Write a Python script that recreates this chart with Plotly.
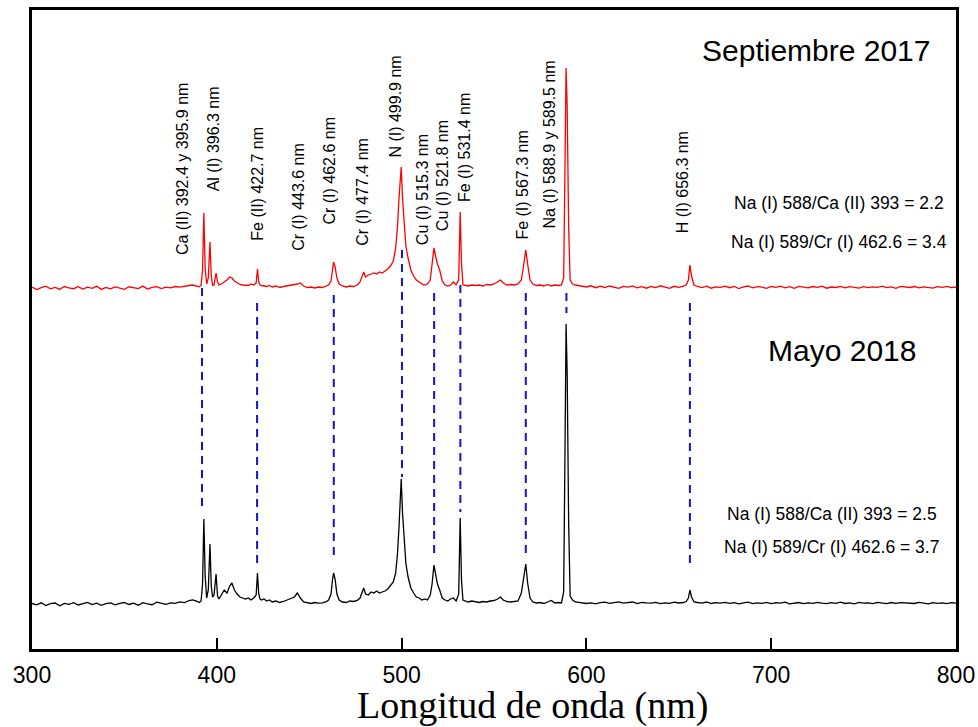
import plotly.graph_objects as go

# ---------------- DATA ----------------
wavelength_nm = [
    300, 302.5, 305, 307.5, 310, 312.5, 315, 317.5, 320, 322.5,
    325, 327.5, 330, 332.5, 335, 337.5, 340, 342.5, 345, 347.5,
    350, 352.5, 355, 357.5, 360, 362.5, 365, 367.5, 370, 372.5,
    375, 377.5, 380, 382.5, 385, 387, 389, 390.5, 391.5, 392.3,
    393.0, 393.7, 394.5, 395.4, 396.3, 397.0, 397.7, 398.5, 399.6, 400.4,
    401.2, 402.5, 404, 405.5, 407, 408.2, 409.5, 411, 412.5, 414,
    415.5, 417, 418.5, 420, 421.3, 422.0, 422.7, 423.4, 424.2, 425.5,
    427, 428.5, 430, 432, 434, 436, 438, 440, 442, 443.6,
    445.2, 447, 449, 451, 453, 455, 457, 459, 460.5, 461.8,
    462.6, 463.2, 464.0, 465.0, 466.2, 468, 470, 472, 474, 476,
    477.5, 478.5, 479.5, 480.5, 482, 483.5, 485, 486.5, 488, 489.5,
    491, 492.5, 494, 495.5, 496.8, 497.8, 498.6, 499.2, 499.8, 500.5,
    501.3, 502.3, 503.5, 505, 506.5, 508, 509.5, 511, 512.5, 514,
    515.5, 516.5, 517.5, 518.4, 519.4, 520.6, 522, 523.5, 525, 526.5,
    528, 529.5, 530.9, 531.7, 532.4, 533.2, 534.5, 536, 538, 540,
    542, 544, 546, 548, 550, 552, 553.5, 555, 557, 559,
    561, 563, 564.8, 566.2, 567.2, 568.2, 569.5, 571, 573, 575,
    577, 579, 581, 583, 585, 586.5, 587.7, 588.4, 589.0, 589.6,
    590.4, 591.2, 592.5, 594, 596, 598, 600, 602.5, 605, 607.5,
    610, 612.5, 615, 617.5, 620, 622.5, 625, 627.5, 630, 632.5,
    635, 637.5, 640, 642.5, 645, 647.5, 650, 652.5, 654, 655.2,
    656.0, 656.9, 658.2, 660, 662.5, 665, 667.5, 670, 672.5, 675,
    677.5, 680, 682.5, 685, 687.5, 690, 692.5, 695, 697.5, 700,
    702.5, 705, 707.5, 710, 712.5, 715, 717.5, 720, 722.5, 725,
    727.5, 730, 732.5, 735, 737.5, 740, 742.5, 745, 747.5, 750,
    752.5, 755, 757.5, 760, 762.5, 765, 767.5, 770, 772.5, 775,
    777.5, 780, 782.5, 785, 787.5, 790, 792.5, 795, 797.5, 800,
]

# Intensity (a.u.) above each spectrum's own baseline
intensity_may2018 = [
    0.5, -0.8, 1.2, -1.5, 0.3, 1.0, -1.8, 0.6, -0.4, 1.4,
    -1.0, 0.2, 1.6, -0.6, 0.9, -1.3, 0.4, 1.1, -0.9, 0.7,
    1.5, -0.5, 0.8, -1.2, 1.3, 0.1, -0.7, 1.8, 0.4, -0.3,
    1.2, 0.6, 2.2, 1.4, 3.5, 4.2, 2.8, 1.5, 3.0, 20,
    85, 28, 6, 14, 60, 18, 7, 9, 30, 8,
    5, 9, 14, 11, 18, 21, 14, 10, 7, 6,
    5, 6, 4, 6, 9, 31, 10, 5, 4, 5,
    3, 4, 2, 3, 1.5, 2.5, 4, 5, 7, 11,
    6, 2, 1, 0.5, 1.5, 0.8, 1.2, 2, 4, 10,
    24, 31, 25, 10, 4, 2, 1.5, 3, 2.5, 3.5,
    6, 12, 16, 10, 9, 12, 11, 13, 11, 12,
    13, 15, 18, 22, 31, 51, 77, 104, 125, 91,
    64, 41, 27, 16, 11, 7, 6, 4, 5, 4,
    9, 20, 39, 30, 20, 14, 6, 4, 3, 5,
    6, 3, 10, 86, 24, 4, 3, 2, 3, 2,
    1.5, 2.5, 2, 3, 3.5, 5, 7, 4, 2.5, 2,
    2.5, 3, 11, 27, 40, 21, 6, 2, 1, 1.5,
    0.5, 2, 3.5, 1, 1.5, 1, 12, 150, 280, 230,
    80, 8, 4, 2, 1.5, 1, 0.5, 1.2, 0.2, 1.4,
    1.8, 0.6, 1.3, 2.2, 0.8, 1.5, 2.0, 0.4, 1.7, 1.1,
    0.9, 1.6, 0.3, 1.2, 0.7, 1.9, 1.0, 1.5, 2.5, 6,
    14, 7, 2, 1.5, 0.8, 2.0, 0.5, 1.3, 0.9, 1.7,
    0.6, 1.4, 0.2, 1.1, 1.8, 0.4, 1.2, 0.7, 1.6, 0.3,
    1.3, 0.8, 1.9, 0.2, 1.0, 1.5, 0.4, 1.2, 0.6, 1.7,
    0.9, 0.3, 1.4, 0.7, 1.8, 0.5, 1.1, 0.2, 1.6, 0.8,
    1.2, 0.4, 1.7, 0.9, 0.3, 1.5, 0.6, 1.3, 0.8, 1.0,
    0.5, 1.6, 0.9, 0.2, 1.4, 0.7, 1.1, 0.4, 1.3, 0.8,
]

intensity_sep2017 = [
    1.0, -1.5, 0.4, 1.8, -0.9, 0.6, -1.2, 1.5, 0.2, -0.7,
    1.3, -1.1, 0.8, -0.3, 1.7, -1.4, 0.5, -0.8, 1.1, 0.0,
    -1.3, 1.2, 0.3, -0.6, 1.9, -1.0, 0.7, 1.4, -0.5, 0.9,
    0.2, 1.5, 0.8, 1.9, 2.5, 3.0, 1.8, 1.2, 2.5, 18,
    75, 20, 4, 10, 46, 12, 3, 3, 15, 6,
    3, 4, 6, 8, 11, 10, 7, 5, 3.5, 3,
    3, 2.5, 4, 3, 5, 19, 6, 3, 2.5, 2,
    1.5, 2.5, 1, 2, 0.5, 1.5, 2, 2.5, 3, 4,
    5, 2, 0.5, 1, 0, 1, 0.5, 1.5, 3, 7,
    17, 26, 21, 10, 4, 2, 1, 2, 1.5, 3,
    6, 12, 16, 11, 13, 14, 15, 14, 16, 15,
    17, 19, 22, 27, 40, 62, 90, 110, 121, 90,
    65, 42, 30, 18, 12, 8, 6, 4, 3, 4,
    8, 22, 40, 32, 24, 18, 7, 3, 2, 3,
    6, 3, 8, 76, 25, 3, 2.5, 2, 3, 2.5,
    3, 2, 3.5, 3, 4, 6, 8, 5, 3, 3.5,
    3, 4, 8, 25, 38, 24, 8, 4, 2.5, 3,
    2, 3.5, 2, 3, 2.5, 3, 10, 120, 220, 181,
    60, 8, 4, 3, 2.5, 1.5, 1, 2.2, 0.3, 1.8,
    0.5, 2.0, 1.1, -0.4, 1.6, 0.8, 2.1, 0.2, 1.3, -0.2,
    1.5, 0.4, 2.2, 0.9, -0.3, 1.7, 0.6, 1.9, 3, 8,
    23, 12, 3, 1.5, 0.4, 1.8, -0.2, 1.2, 0.7, 1.9,
    0.3, 1.6, -0.5, 1.1, 2.0, 0.2, 1.4, 0.8, -0.3, 1.5,
    0.6, 1.9, 0.1, 1.3, -0.4, 1.7, 0.9, 0.2, 1.5, 0.6,
    1.8, -0.2, 1.0, 0.5, 1.6, 0.1, 1.3, 0.8, -0.1, 1.4,
    0.4, 1.2, 0.7, 1.9, 0.3, 1.1, -0.3, 1.6, 0.9, 0.5,
    1.5, 0.2, 1.2, 0.8, -0.1, 1.3, 0.6, 1.7, 0.4, 1.0,
]

line_labels = [
    "Ca (II) 392.4 y 395.9 nm", "Al (I) 396.3 nm", "Fe (II) 422.7 nm",
    "Cr (I) 443.6 nm", "Cr (I) 462.6 nm", "Cr (I) 477.4 nm",
    "N (I) 499.9 nm", "Cu (I) 515.3 nm", "Cu (I) 521.8 nm",
    "Fe (I) 531.4 nm", "Fe (I) 567.3 nm", "Na (I) 588.9 y 589.5 nm",
    "H (I) 656.3 nm",
]

marker_lines_nm = [392.0, 421.8, 463.3, 500.2, 517.6, 531.8, 567.2, 589.2, 656.0]

ratio_sep2017 = ["Na (I) 588/Ca (II) 393 = 2.2", "Na (I) 589/Cr (I) 462.6 = 3.4"]
ratio_may2018 = ["Na (I) 588/Ca (II) 393 = 2.5", "Na (I) 589/Cr (I) 462.6 = 3.7"]

x_ticks = [300, 400, 500, 600, 700, 800]

# ---------------- LAYOUT / STYLE ----------------
SEP_OFFSET = 316
label_pos = [  # (x, y bottom) for rotated labels
    (381.5, 347), (398.4, 411), (421.6, 361), (443.8, 351), (460.5, 377),
    (478.4, 356), (496.2, 444), (511.4, 357), (522.2, 371), (534.1, 400),
    (565.2, 362), (580.0, 374), (651.9, 369),
]
marker_extent = [  # (top, bottom)
    (316, 92), (301, 37), (309, 47), (354, 127), (311, 45),
    (319, 92), (311, 47), (311, 291), (301, 39),
]

SANS = "Liberation Sans, Arial, sans-serif"
SERIF = "Liberation Serif, Times New Roman, serif"

fig = go.Figure()
fig.add_trace(go.Scatter(
    x=wavelength_nm, y=[v + SEP_OFFSET for v in intensity_sep2017],
    mode="lines", line=dict(color="#FF0000", width=1.3), showlegend=False,
    name="Septiembre 2017"))
fig.add_trace(go.Scatter(
    x=wavelength_nm, y=intensity_may2018,
    mode="lines", line=dict(color="#000000", width=1.3), showlegend=False,
    name="Mayo 2018"))

shapes = []
for xnm, (top, bot) in zip(marker_lines_nm, marker_extent):
    shapes.append(dict(type="line", xref="x", yref="y", x0=xnm, x1=xnm, y0=top, y1=bot,
                       line=dict(color="#1414C8", width=2, dash="8px,6px"), layer="below"))

annotations = []
for text, (lx, ly) in zip(line_labels, label_pos):
    annotations.append(dict(x=lx, y=ly, xref="x", yref="y", text=text, showarrow=False,
                            textangle=-90, xanchor="center", yanchor="bottom",
                            font=dict(family=SANS, size=16, color="black")))

annotations.append(dict(x=724.3, y=554, xref="x", yref="y", text="Septiembre 2017",
                        showarrow=False, xanchor="center", yanchor="middle",
                        font=dict(family=SANS, size=30, color="black")))
annotations.append(dict(x=738.1, y=254, xref="x", yref="y", text="Mayo 2018",
                        showarrow=False, xanchor="center", yanchor="middle",
                        font=dict(family=SANS, size=30, color="black")))
for text, (rx, ry) in zip(ratio_sep2017, [(736.5, 401), (736.8, 362)]):
    annotations.append(dict(x=rx, y=ry, xref="x", yref="y", text=text, showarrow=False,
                            xanchor="center", yanchor="middle",
                            font=dict(family=SANS, size=17.5, color="black")))
for text, (rx, ry) in zip(ratio_may2018, [(732.7, 90), (732.7, 57)]):
    annotations.append(dict(x=rx, y=ry, xref="x", yref="y", text=text, showarrow=False,
                            xanchor="center", yanchor="middle",
                            font=dict(family=SANS, size=17.5, color="black")))
annotations.append(dict(x=571, y=0, xref="x", yref="paper", yshift=-56,
                        text="Longitud de onda (nm)", showarrow=False,
                        xanchor="center", yanchor="middle",
                        font=dict(family=SERIF, size=38, color="black")))

fig.update_layout(
    template="none",
    width=978, height=727,
    margin=dict(l=32, r=22, t=10, b=78, pad=0, autoexpand=False),
    paper_bgcolor="white", plot_bgcolor="white",
    shapes=shapes, annotations=annotations,
    xaxis=dict(range=[300, 800], tickvals=x_ticks, ticks="inside", ticklen=11,
               tickwidth=2, tickcolor="black", showline=True, linecolor="black",
               linewidth=2.5, mirror=True, showgrid=False, zeroline=False,
               automargin=False,
               tickfont=dict(family=SANS, size=23, color="black"),
               ticklabelstandoff=4),
    yaxis=dict(range=[-45, 594], showticklabels=False, ticks="", showline=True,
               linecolor="black", linewidth=2.5, mirror=True, showgrid=False,
               zeroline=False, automargin=False),
)

fig.write_html("out.html")
